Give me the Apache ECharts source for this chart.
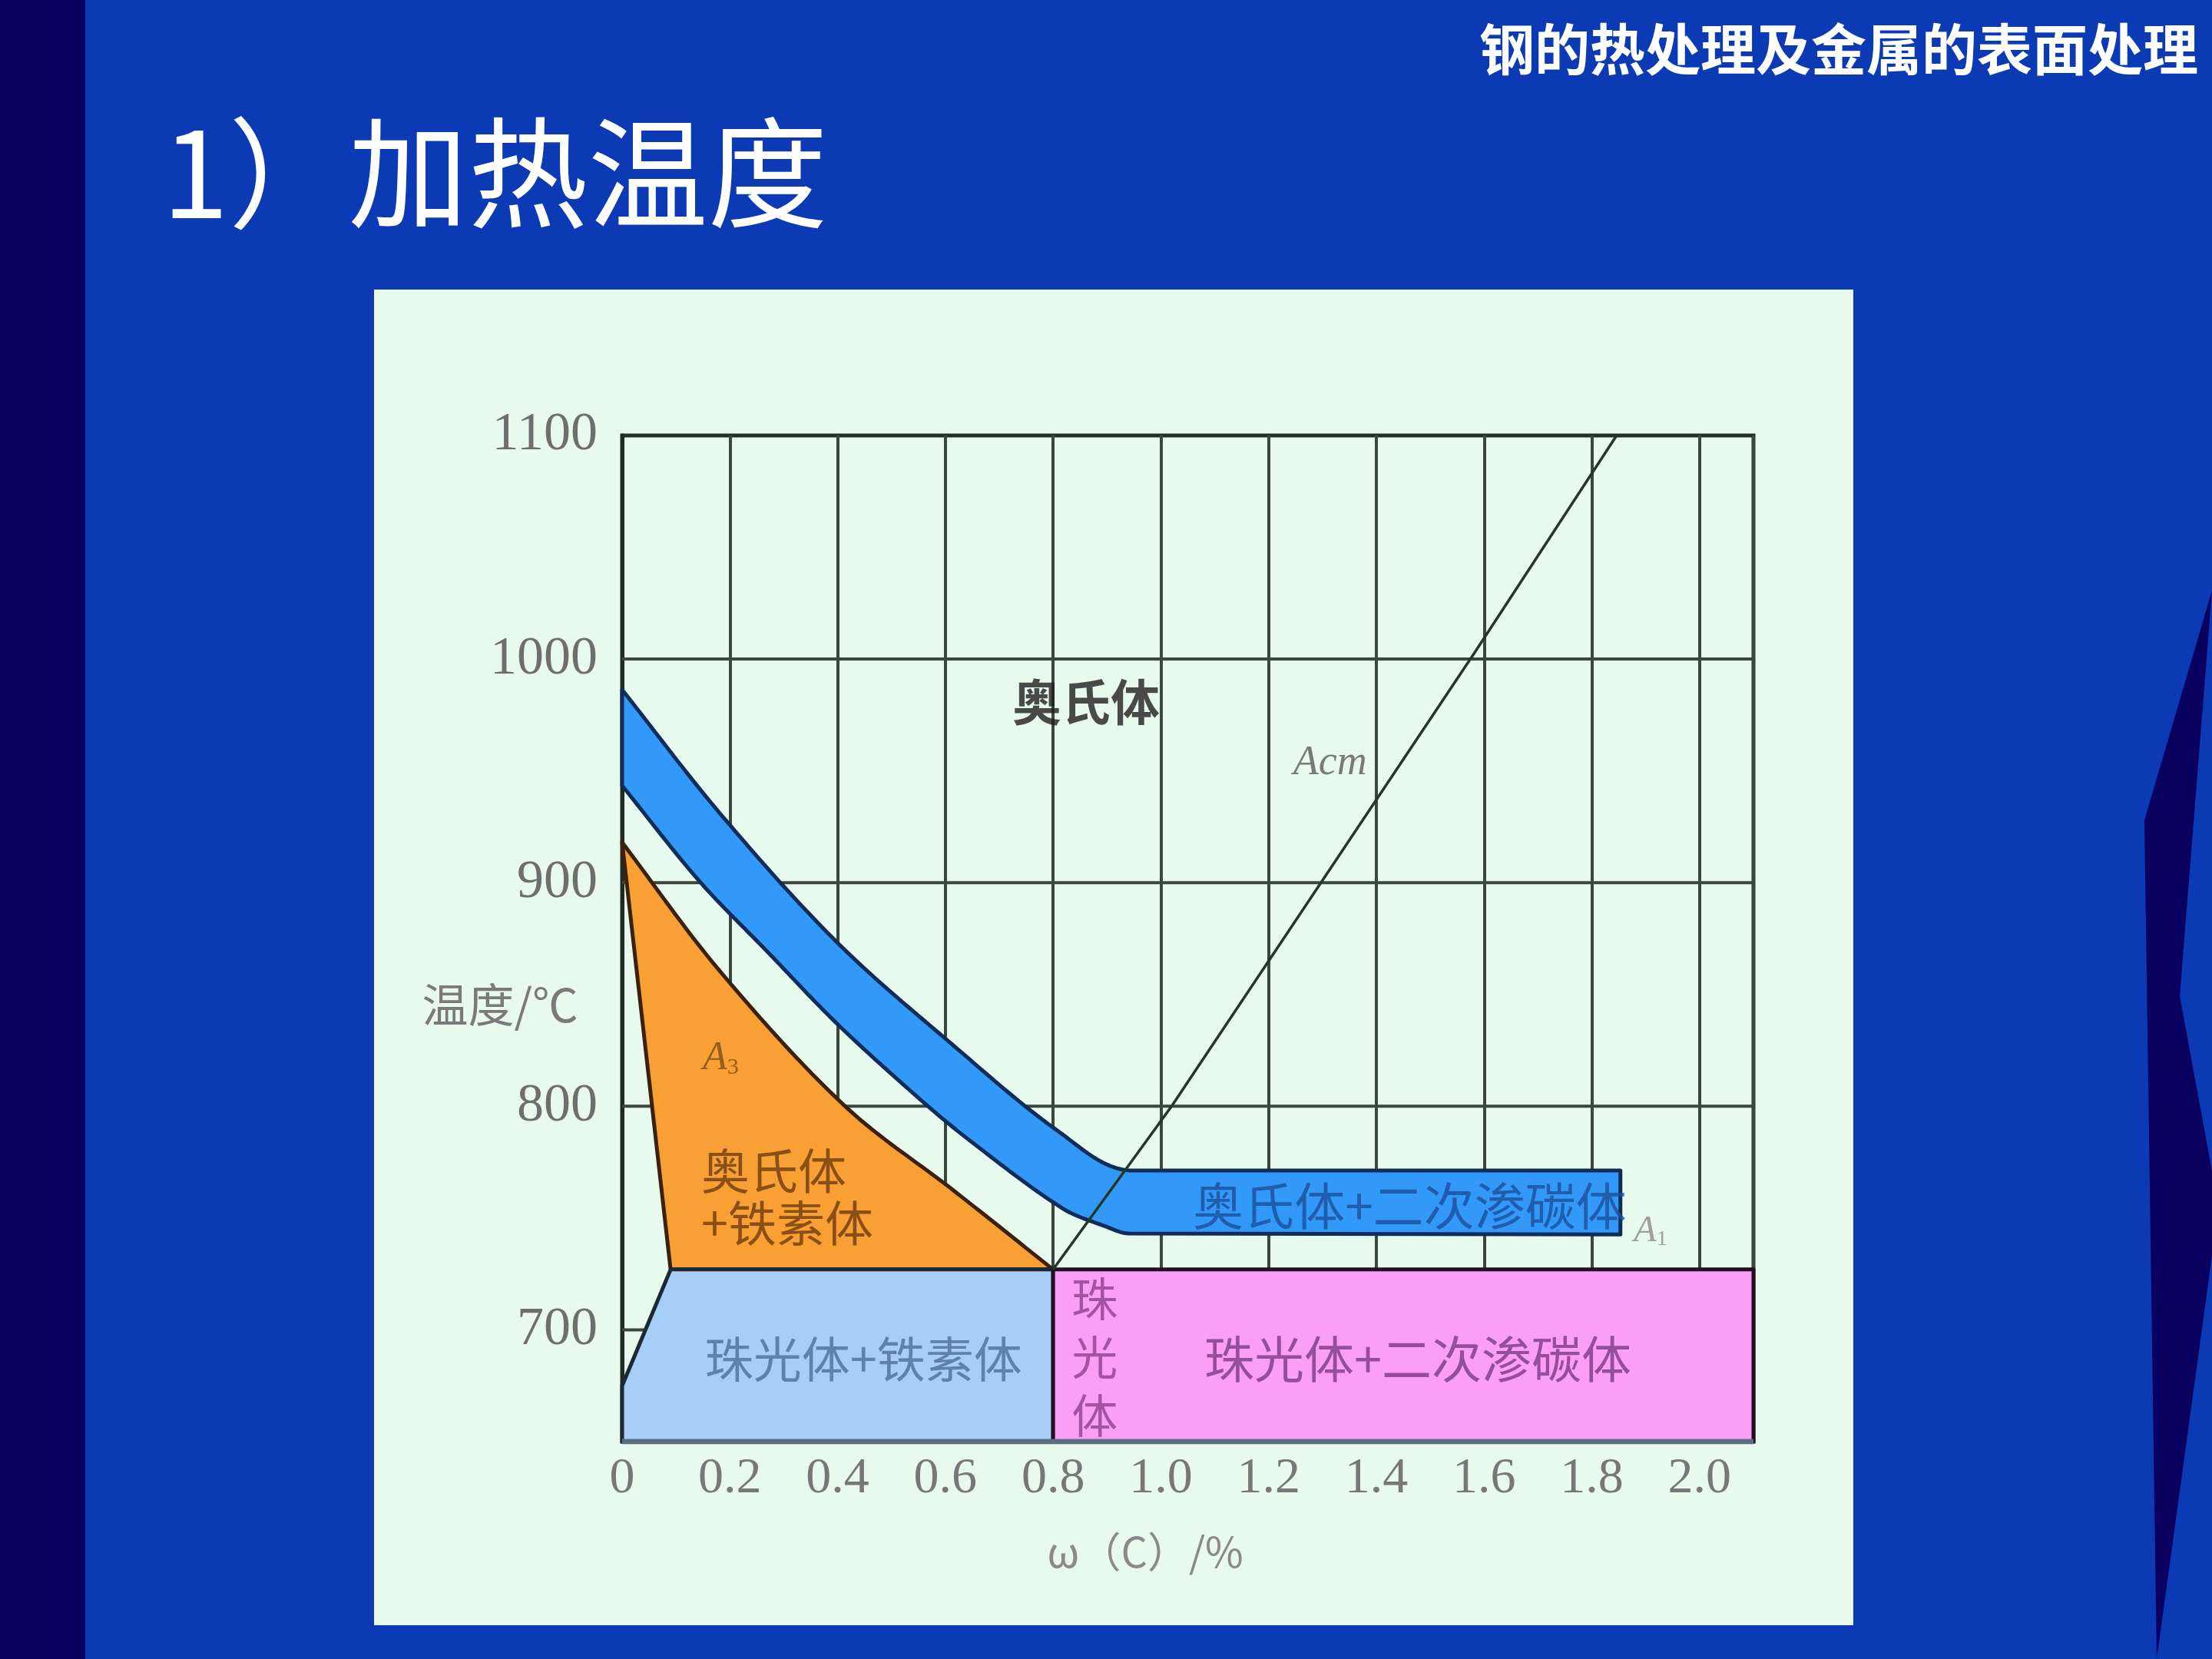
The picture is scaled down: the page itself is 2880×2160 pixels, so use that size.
<!DOCTYPE html>
<html><head><meta charset="utf-8">
<script src="https://cdn.jsdelivr.net/npm/echarts@6/dist/echarts.min.js"></script>
<style>html,body{margin:0;padding:0;background:#0B3AB4}#c{width:2880px;height:2160px}</style>
</head><body><div id="c"></div>
<script>
// ---- data ----
const xTickValues = [0, 0.2, 0.4, 0.6, 0.8, 1.0, 1.2, 1.4, 1.6, 1.8, 2.0];
const yTickValues = [700, 800, 900, 1000, 1100];
const yGridValues = [700, 800, 900, 1000];
const xExtent = [0, 2.1];
const yExtent = [650, 1100];

// A3 line (upper edge of the austenite + ferrite field)
const a3Curve = [[0, 918], [0.183, 860], [0.414, 800], [0.617, 762], [0.8, 727]];
const ferriteCorner = [0.09, 727];
const pearliteFerriteRegion = [[0, 650], [0, 675], [0.09, 727], [0.8, 727], [0.8, 650]];
const pearliteCementiteRegion = [[0.8, 650], [0.8, 727], [2.1, 727], [2.1, 650]];
// quenching temperature band (upper edge left->right, lower edge right->left)
const bandUpper = [[0, 986.3], [0.184, 930.3], [0.399, 873.3], [0.613, 827.6], [0.808, 789.1], [0.941, 771.3], [1.853, 771.3]];
const bandLower = [[1.853, 742.7], [0.941, 743.1], [0.898, 746.2], [0.817, 754.4], [0.642, 785.3], [0.546, 804.6], [0.399, 836.9], [0.271, 868.8], [0.143, 900.8], [0, 943.4]];
// Acm line
const acmLine = [[0.8, 727], [1.02, 800], [1.58, 1002], [1.846, 1100]];

// region labels [x, y, text]
const labelAustenite = [0.861, 981, '奥氏体'];
const labelAcm = [1.314, 953.3, 'Acm'];
const labelA3 = [0.183, 821.4, 'A3'];
const labelAustFerrite = [[0.147, 771.3, '奥氏体'], [0.147, 747.9, '+铁素体']];
const labelPearliteFerrite = [0.448, 687.1, '珠光体+铁素体'];
const labelPearlite = [0.877, 687.8, '珠\n光\n体'];
const labelPearliteCementite = [1.477, 687.1, '珠光体+二次渗碳体'];
const labelAustCementite = [1.462, 755.5, '奥氏体+二次渗碳体'];
const labelA1 = [1.909, 744.1, 'A1'];

const CJK = '"Noto Sans CJK SC", sans-serif';
const SERIF = '"Liberation Serif", "DejaVu Serif", serif';

// smooth curve through pixel points P[from..to] (tangents scaled per segment, no overshoot)
function spline(P, from, to) {
  const out = [];
  const n = P.length;
  function unit(a, b) { const dx = b[0] - a[0], dy = b[1] - a[1], l = Math.hypot(dx, dy) || 1; return [dx / l, dy / l]; }
  for (let i = from; i < to; i++) {
    const p0 = P[Math.max(i - 1, 0)], p1 = P[i], p2 = P[i + 1], p3 = P[Math.min(i + 2, n - 1)];
    const d = Math.hypot(p2[0] - p1[0], p2[1] - p1[1]);
    const u1 = unit(p0, p2), u2 = unit(p1, p3);
    const c1 = [p1[0] + u1[0] * d / 3, p1[1] + u1[1] * d / 3];
    const c2 = [p2[0] - u2[0] * d / 3, p2[1] - u2[1] * d / 3];
    for (let k = 0; k < 24; k++) {
      const t = k / 24, s = 1 - t;
      out.push([0, 1].map(function (j) {
        return s * s * s * p1[j] + 3 * s * s * t * c1[j] + 3 * s * t * t * c2[j] + t * t * t * p2[j];
      }));
    }
  }
  out.push(P[to].slice());
  return out;
}

// builder(api) returns pixel points of the polygon
function regionSeries(name, pts, builder, fill, stroke, lw, z) {
  return {
    type: 'custom', name: name, z: z, silent: true,
    coordinateSystem: 'cartesian2d',
    data: pts, encode: { x: 0, y: 1 },
    renderItem: function (params, api) {
      if (params.dataIndex !== 0) return null;
      return { type: 'polygon', shape: { points: builder(api) }, style: { fill: fill, stroke: stroke, lineWidth: lw, lineJoin: 'round' } };
    }
  };
}
function toPx(api, arr) { return arr.map(function (p) { return api.coord(p); }); }

function labelSeries(items, style, position, z) {
  return {
    type: 'scatter', z: z || 8, silent: true, symbolSize: 0,
    data: items.map(function (it) { return { value: [it[0], it[1]], name: it[2] }; }),
    label: Object.assign({ show: true, position: position || 'inside', distance: 0, formatter: '{b}' }, style)
  };
}

const series = [];
yGridValues.forEach(function (v) {
  series.push({ type: 'line', z: 1, silent: true, symbol: 'none', data: [[xExtent[0], v], [xExtent[1], v]], lineStyle: { color: '#3b473b', width: 4 } });
});
series.push(regionSeries('奥氏体+铁素体', a3Curve.concat([ferriteCorner]), function (api) {
  const A = toPx(api, a3Curve);
  return spline(A, 0, A.length - 1).concat([api.coord(ferriteCorner)]);
}, '#F8A034', '#3a220a', 5, 3));
series.push(regionSeries('珠光体+铁素体', pearliteFerriteRegion, function (api) { return toPx(api, pearliteFerriteRegion); }, '#A6CEF6', '#1c2834', 5, 3));
series.push(regionSeries('珠光体+二次渗碳体', pearliteCementiteRegion, function (api) { return toPx(api, pearliteCementiteRegion); }, '#FA9EF7', '#22101f', 5, 3));
series.push(regionSeries('淬火加热温度范围', bandUpper.concat(bandLower), function (api) {
  const U = toPx(api, bandUpper), L = toPx(api, bandLower);
  return spline(U, 0, U.length - 2).concat([U[U.length - 1], L[0]]).concat(spline(L, 1, L.length - 1));
}, '#3399F8', '#0f2d58', 5, 4));
series.push({ type: 'line', z: 5, silent: true, symbol: 'none', data: acmLine, lineStyle: { color: '#27352a', width: 3.5 } });
series.push({ type: 'line', z: 6, silent: true, symbol: 'none', data: [[xExtent[0], yExtent[0]], [xExtent[1], yExtent[0]]], lineStyle: { color: '#5a6e82', width: 7 } });

series.push(labelSeries([labelAustenite], { fontFamily: CJK, fontSize: 64, fontWeight: 'bold', color: '#1e1e1e' }));
series.push(labelSeries([labelAcm], { fontFamily: SERIF, fontStyle: 'italic', fontSize: 54, color: '#5a5a5a' }));
series.push(labelSeries([labelA3], { formatter: '{a|A}{s|3}',
  rich: { a: { fontFamily: SERIF, fontStyle: 'italic', fontSize: 52, color: '#7e4c16' }, s: { fontFamily: SERIF, fontSize: 30, color: '#7e4c16', padding: [24, 0, 0, 0] } } }));
series.push(labelSeries(labelAustFerrite, { fontFamily: CJK, fontSize: 63, color: '#6e3a10', align: 'left' }, 'right'));
series.push(labelSeries([labelPearliteFerrite], { fontFamily: CJK, fontSize: 63, color: '#4c6e9c' }));
series.push(labelSeries([labelPearlite], { fontFamily: CJK, fontSize: 60, color: '#8e3e8e', lineHeight: 76 }));
series.push(labelSeries([labelPearliteCementite], { fontFamily: CJK, fontSize: 65, color: '#7c3886' }));
series.push(labelSeries([labelAustCementite], { fontFamily: CJK, fontSize: 66, color: '#1b4e98' }));
series.push(labelSeries([labelA1], { formatter: '{a|A}{s|1}',
  rich: { a: { fontFamily: SERIF, fontStyle: 'italic', fontSize: 48, color: '#8a8a8a' }, s: { fontFamily: SERIF, fontSize: 28, color: '#8a8a8a', padding: [22, 0, 0, 0] } } }));

function isTick(list, v) { return list.some(function (t) { return Math.abs(t - v) < 1e-6; }); }

const option = {
  backgroundColor: '#0B3AB4',
  animation: false,
  grid: { left: 810, top: 567, right: 597, bottom: 283, show: true, borderColor: '#223022', borderWidth: 5, backgroundColor: 'transparent' },
  xAxis: {
    type: 'value', min: xExtent[0], max: xExtent[1], interval: 0.2,
    axisLine: { show: false }, axisTick: { show: false },
    splitLine: { show: true, lineStyle: { color: '#3b473b', width: 4 } },
    axisLabel: { margin: 16, fontFamily: SERIF, fontSize: 66, color: '#777777',
      formatter: function (v) { return isTick(xTickValues, v) ? (v === 0 ? '0' : v.toFixed(1)) : ''; } }
  },
  yAxis: {
    type: 'value', min: yExtent[0], max: yExtent[1], interval: 50,
    axisLine: { show: true, lineStyle: { color: '#202a20', width: 5 } }, axisTick: { show: false },
    splitLine: { show: false },
    axisLabel: { margin: 32, fontFamily: SERIF, fontSize: 70, color: '#6e6e6e',
      formatter: function (v) { return isTick(yTickValues, v) ? String(v) : ''; } }
  },
  graphic: [
    { type: 'rect', z: -20, silent: true, shape: { x: 0, y: 0, width: 111, height: 2160 }, style: { fill: '#0A0060' } },
    { type: 'polygon', z: -20, silent: true, shape: { points: [[2880, 769], [2792, 1068], [2808, 2160], [2880, 1635], [2880, 1525], [2838, 1297]] }, style: { fill: '#0A0060' } },
    { type: 'rect', z: -10, silent: true, shape: { x: 487, y: 377, width: 1926, height: 1739 }, style: { fill: '#E8F9EE' } },
    { type: 'text', z: 50, silent: true, x: 211, y: 225, style: { text: '1）加热温度', fill: '#ffffff', font: '156px "Noto Sans CJK SC"', verticalAlign: 'middle', align: 'left' } },
    { type: 'text', z: 50, silent: true, x: 2862, y: 64, style: { text: '钢的热处理及金属的表面处理', fill: '#ffffff', font: 'bold 72px "Noto Sans CJK SC"', verticalAlign: 'middle', align: 'right' } },
    { type: 'text', z: 50, silent: true, x: 753, y: 1308, style: { text: '温度/℃', fill: '#7a7a7a', font: '60px "Noto Sans CJK SC"', verticalAlign: 'middle', align: 'right' } },
    { type: 'text', z: 50, silent: true, x: 1491, y: 2020, style: { text: 'ω（C）/%', fill: '#8a8a8a', font: '54px "Noto Sans CJK SC"', verticalAlign: 'middle', align: 'center' } }
  ],
  series: series
};
const chart = echarts.init(document.getElementById('c'), null, { renderer: 'canvas' });
chart.setOption(option);
</script></body></html>
